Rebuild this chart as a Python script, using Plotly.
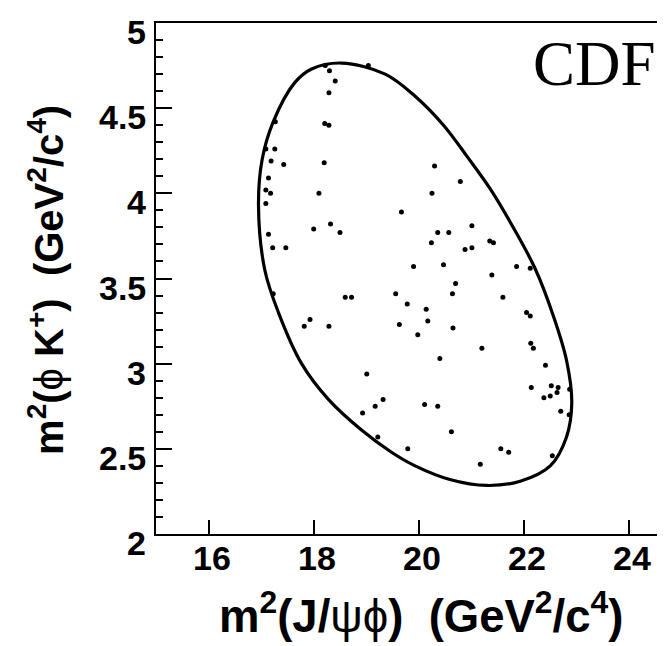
import plotly.graph_objects as go

# Event positions (GeV^2/c^4)
jpsiphi_m2 = [18.22, 18.30, 18.41, 18.29, 19.04, 17.27, 18.21, 18.29, 17.09, 17.26,
              17.19, 17.43, 18.20, 17.14, 17.09, 17.18, 17.09, 18.10, 19.67, 18.00,
              18.32, 18.50, 17.14, 17.22, 17.47, 19.90, 20.30, 20.79, 20.25, 21.01,
              20.36, 20.57, 20.24, 21.35, 21.42, 20.88, 21.01, 20.47, 21.86, 22.12,
              21.39, 20.70, 20.64, 21.60, 18.60, 18.72, 19.56, 19.78, 17.23, 20.14,
              20.17, 17.93, 17.82, 18.29, 19.63, 20.65, 19.98, 22.05, 22.12, 22.13,
              22.18, 21.20, 20.40, 22.41, 19.01, 22.14, 22.52, 22.65, 22.63, 22.50,
              22.38, 22.87, 22.70, 22.86, 19.32, 19.17, 18.93, 20.11, 20.36, 20.62,
              19.22, 19.79, 21.56, 21.71, 22.54, 21.17]
phik_m2 = [4.75, 4.72, 4.66, 4.59, 4.75, 4.42, 4.41, 4.40, 4.26, 4.26,
           4.19, 4.17, 4.18, 4.09, 4.02, 4.00, 3.94, 4.00, 3.89, 3.79,
           3.82, 3.77, 3.76, 3.68, 3.68, 3.57, 4.16, 4.07, 4.00, 3.81,
           3.77, 3.77, 3.71, 3.72, 3.71, 3.67, 3.68, 3.58, 3.57, 3.56,
           3.52, 3.47, 3.41, 3.39, 3.39, 3.39, 3.41, 3.35, 3.41, 3.32,
           3.25, 3.26, 3.22, 3.22, 3.23, 3.21, 3.17, 3.30, 3.28, 3.12,
           3.09, 3.09, 3.03, 2.99, 2.94, 2.86, 2.87, 2.86, 2.83, 2.81,
           2.80, 2.85, 2.72, 2.70, 2.79, 2.75, 2.71, 2.76, 2.75, 2.60,
           2.57, 2.50, 2.50, 2.48, 2.46, 2.41]

# Kinematic boundary
boundary_x = [18.53, 19.36, 19.93, 20.47, 20.91, 21.35, 21.74, 22.21, 22.56, 22.81,
              22.91, 22.81, 22.50, 21.93, 21.29, 20.59, 19.93, 19.48, 18.91, 18.28,
              17.77, 17.33, 17.07, 16.95, 17.02, 17.23, 17.64, 17.96, 18.53]
boundary_y = [4.765, 4.70, 4.57, 4.40, 4.22, 4.03, 3.83, 3.56, 3.28, 3.02,
              2.77, 2.57, 2.40, 2.31, 2.285, 2.32, 2.40, 2.48, 2.61, 2.79,
              3.00, 3.30, 3.55, 3.93, 4.20, 4.42, 4.65, 4.73, 4.765]

x_ticks = [16, 18, 20, 22, 24]
x_tick_labels = ["16", "18", "20", "22", "24"]
y_ticks = [2, 2.5, 3, 3.5, 4, 4.5, 5]
y_tick_labels = ["2", "2.5", "3", "3.5", "4", "4.5", "5"]

X_RANGE = [15, 24.836]
Y_RANGE = [2, 5]

fig = go.Figure()
fig.add_trace(go.Scatter(x=boundary_x, y=boundary_y, mode="lines",
                         line=dict(color="black", width=3.2, shape="spline", smoothing=1.0),
                         hoverinfo="skip"))
fig.add_trace(go.Scatter(x=jpsiphi_m2, y=phik_m2, mode="markers",
                         marker=dict(color="black", size=5)))

tickfont = dict(family="Liberation Sans", size=34, color="black", weight="bold")

annotations = []
for v, t in zip(x_ticks, x_tick_labels):
    annotations.append(dict(text=t, xref="x", yref="paper", x=v, y=0,
                            xanchor="center", yanchor="middle", xshift=3, yshift=-24,
                            showarrow=False, font=tickfont))
for v, t in zip(y_ticks, y_tick_labels):
    annotations.append(dict(text=t, xref="paper", yref="y", x=0, y=v,
                            xanchor="right", yanchor="middle", xshift=-8, yshift=-9,
                            showarrow=False, font=tickfont))
annotations += [
    dict(text="<b>m<sup>2</sup>(J/</b>ψϕ<b>)\u00a0\u00a0(GeV<sup>2</sup>/c<sup>4</sup>)</b>",
         xref="paper", yref="paper", x=0.5126, y=-0.155, xanchor="center",
         yanchor="middle", showarrow=False,
         font=dict(family="Liberation Sans", size=45.5, color="black")),
    dict(text="<b>m<sup>2</sup>(</b>ϕ<b> K<sup>+</sup>)\u00a0\u00a0(GeV<sup>2</sup>/c<sup>4</sup>)</b>",
         xref="paper", yref="paper", x=-0.213, y=0.497, xanchor="center",
         yanchor="middle", textangle=-90, showarrow=False,
         font=dict(family="Liberation Sans", size=40, color="black")),
    dict(text="CDF", xref="paper", yref="paper", x=0.849, y=0.92,
         xanchor="center", yanchor="middle", showarrow=False,
         font=dict(family="Liberation Serif", size=63, color="black")),
]

fig.update_layout(
    width=665, height=646,
    margin=dict(l=148, r=0, t=15, b=120),
    plot_bgcolor="white", paper_bgcolor="white",
    showlegend=False,
    xaxis=dict(range=X_RANGE, showline=True, mirror=True, linecolor="black",
               linewidth=2, ticks="inside", ticklen=14, tickwidth=2, tickcolor="black",
               tickvals=x_ticks, showticklabels=False, showgrid=False, zeroline=False,
               automargin=False),
    yaxis=dict(range=Y_RANGE, showline=True, linecolor="black", linewidth=2,
               ticks="inside", ticklen=16, tickwidth=2, tickcolor="black",
               tickvals=y_ticks, showticklabels=False, showgrid=False, zeroline=False,
               automargin=False,
               minor=dict(dtick=0.1, ticks="inside", ticklen=7, tickwidth=2,
                          tickcolor="black", showgrid=False)),
    annotations=annotations,
)

fig.write_html("out.html", config={"displayModeBar": False})
